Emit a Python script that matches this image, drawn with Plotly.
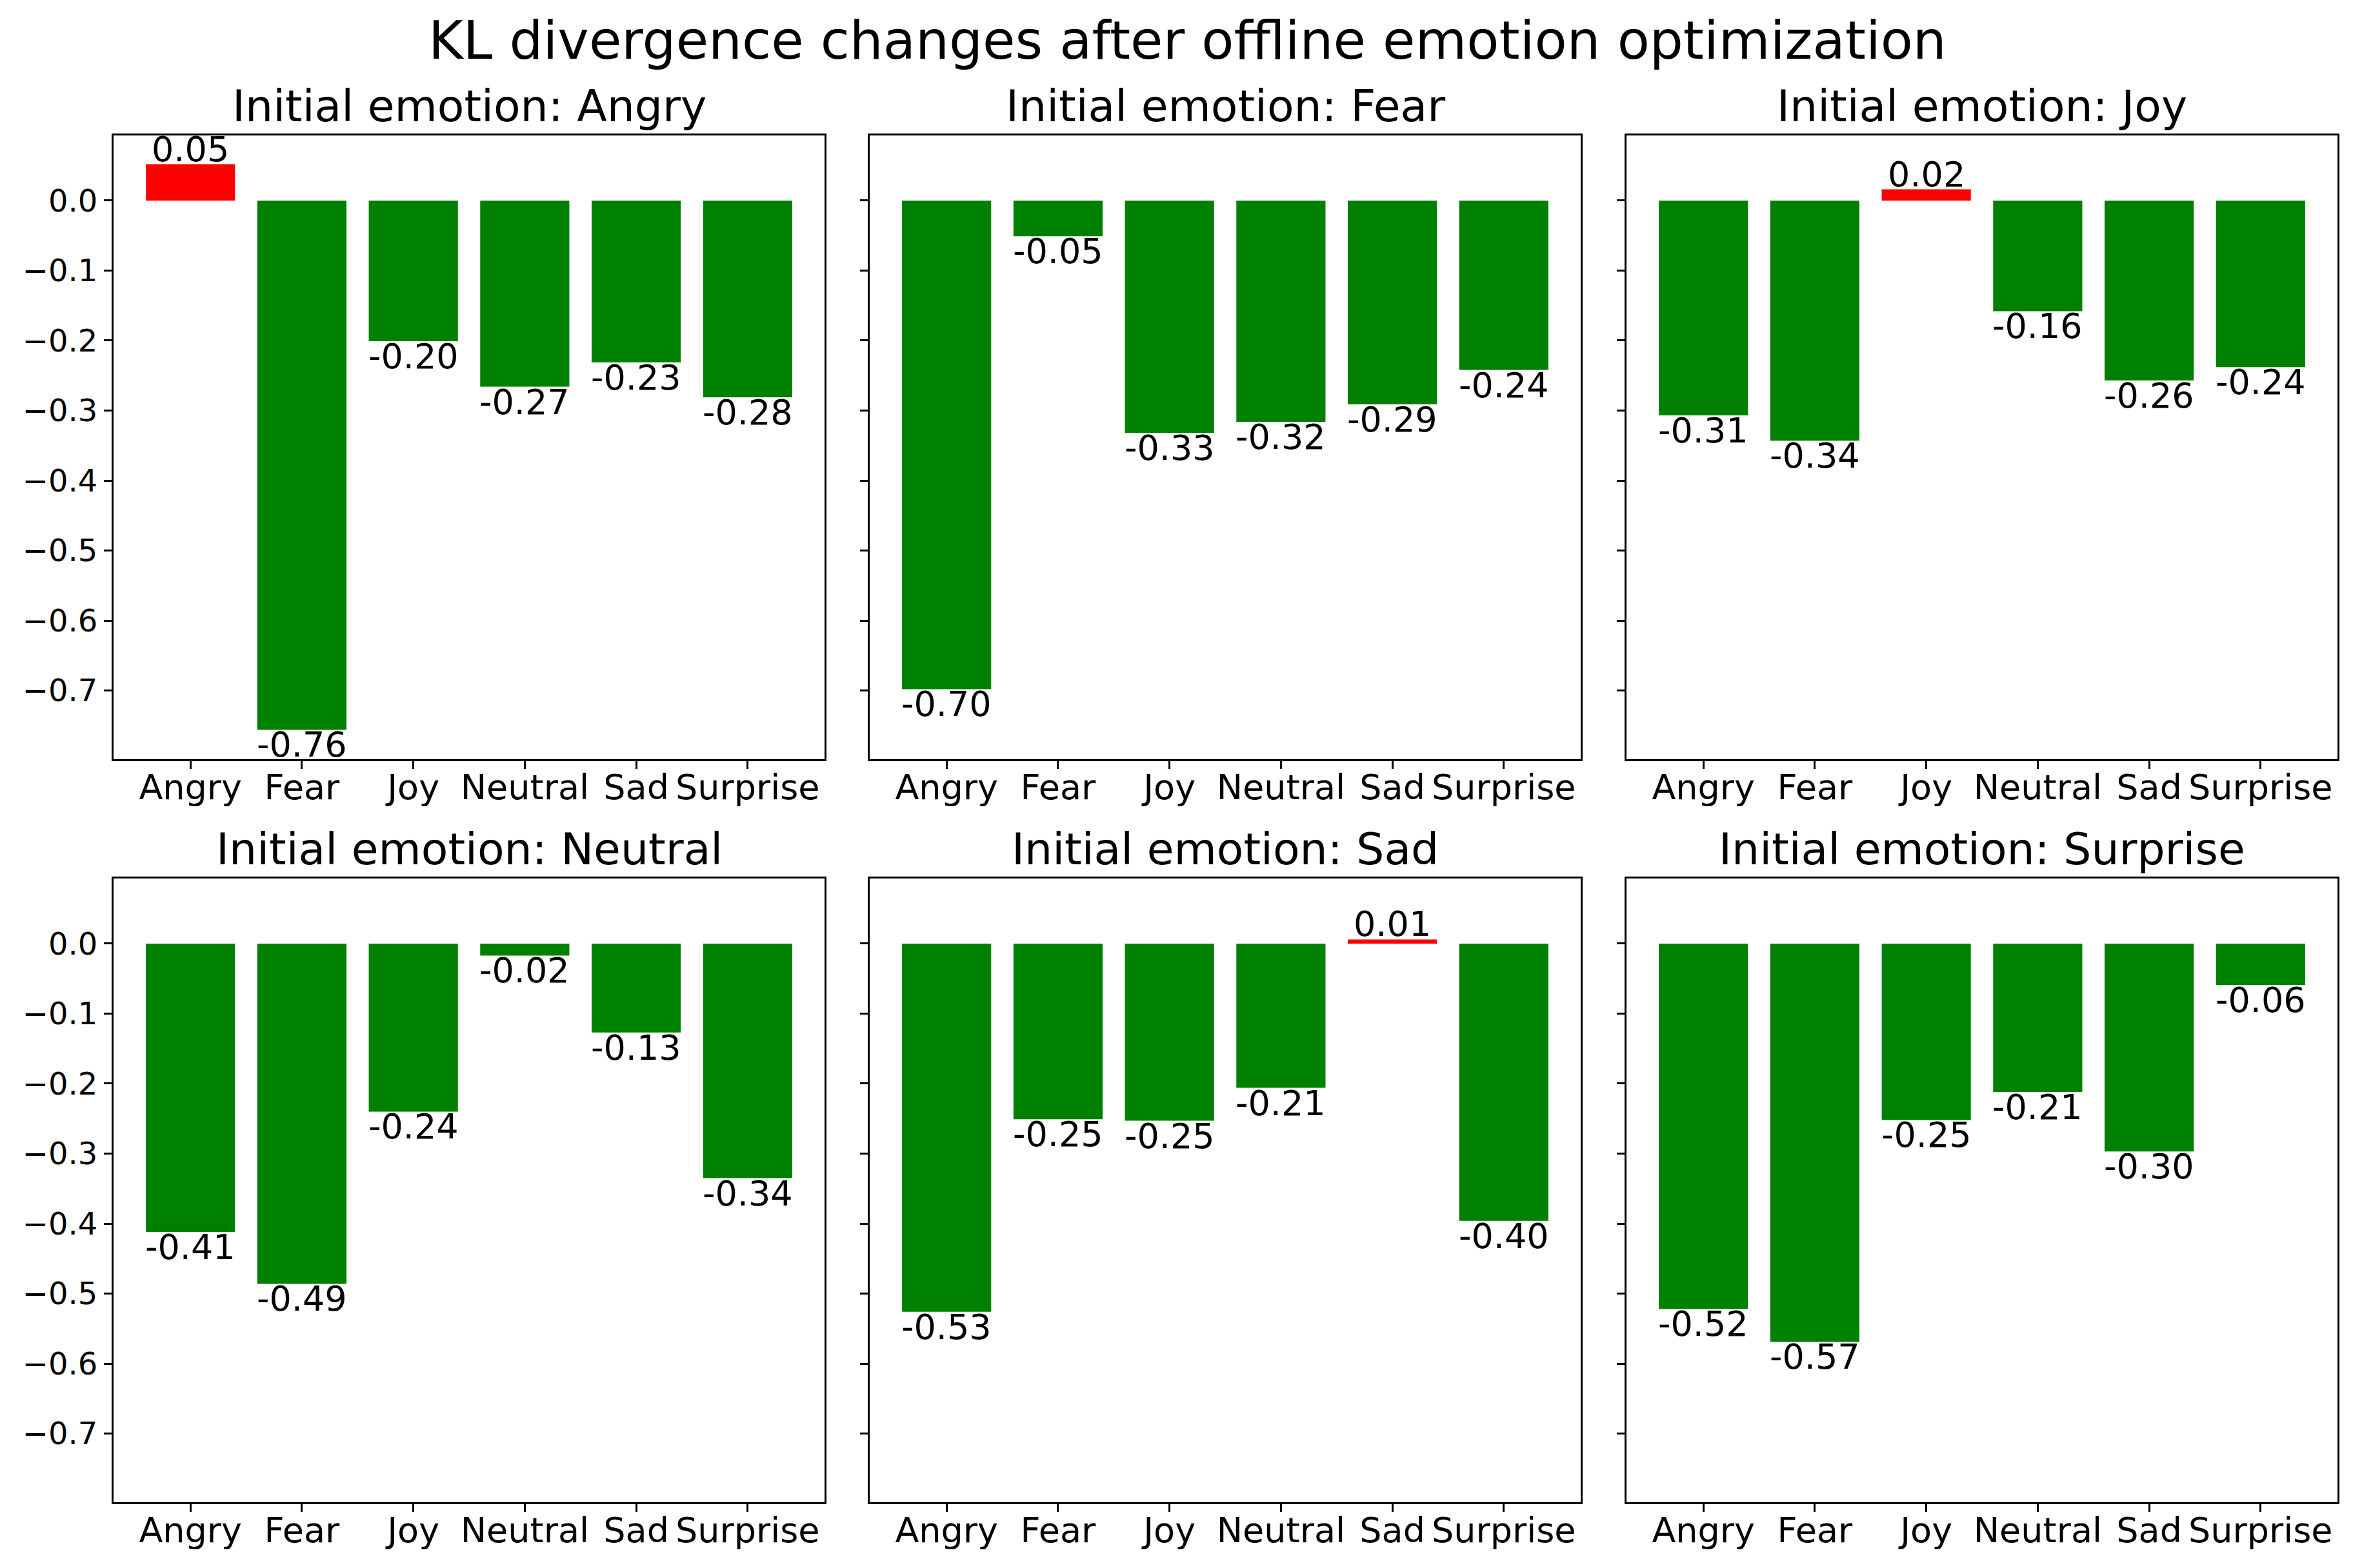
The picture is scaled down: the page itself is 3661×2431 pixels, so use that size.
import plotly.graph_objects as go

# ---------------- data ----------------
emotions = ["Angry", "Fear", "Joy", "Neutral", "Sad", "Surprise"]
initial_emotions = ["Angry", "Fear", "Joy", "Neutral", "Sad", "Surprise"]

kl_angry = [0.052, -0.756, -0.201, -0.266, -0.231, -0.281]
kl_fear = [-0.698, -0.051, -0.332, -0.316, -0.291, -0.242]
kl_joy = [-0.307, -0.343, 0.016, -0.158, -0.257, -0.238]
kl_neutral = [-0.412, -0.486, -0.240, -0.017, -0.127, -0.335]
kl_sad = [-0.526, -0.251, -0.253, -0.206, 0.006, -0.396]
kl_surprise = [-0.522, -0.569, -0.252, -0.212, -0.297, -0.059]

y_tick_values = [0.0, -0.1, -0.2, -0.3, -0.4, -0.5, -0.6, -0.7]
y_tick_labels = ["0.0", "\u22120.1", "\u22120.2", "\u22120.3", "\u22120.4", "\u22120.5", "\u22120.6", "\u22120.7"]

title_text = "KL divergence changes after offline emotion optimization"

series = [kl_angry, kl_fear, kl_joy, kl_neutral, kl_sad, kl_surprise]

# ---------------- layout geometry ----------------
W, H = 3661, 2431
OFF = 8  # default page body margin of the html page
FONT = "DejaVu Sans"
col_px = [(176, 1278), (1348, 2450), (2521, 3623)]
row_px = [(210, 1177), (1362, 2329)]  # top, bottom in px from top of page


def px_x(p):
    return (p - OFF) / W


def px_y(p):
    return 1 - (p - OFF) / H


RED = "#ff0000"
GREEN = "#008000"

fig = go.Figure()
annotations = []
layout_axes = {}

for i, (name, vals) in enumerate(zip(initial_emotions, series)):
    r, c = divmod(i, 3)
    idx = i + 1
    xa = "x" if idx == 1 else f"x{idx}"
    ya = "y" if idx == 1 else f"y{idx}"
    colors = [RED if v > 0 else GREEN for v in vals]
    fig.add_trace(go.Bar(
        x=emotions, y=vals, marker=dict(color=colors, line=dict(width=0)),
        xaxis=xa, yaxis=ya, showlegend=False, hoverinfo="skip",
    ))
    x0, x1 = col_px[c]
    top, bot = row_px[r]
    xdom = [px_x(x0), px_x(x1)]
    ydom = [px_y(bot), px_y(top)]
    axis_common = dict(
        showline=True, linecolor="black", linewidth=3, mirror=True,
        ticks="outside", ticklen=12, tickwidth=3, tickcolor="black",
        showgrid=False, zeroline=False,
    )
    layout_axes[f"xaxis{idx}"] = dict(
        domain=xdom, anchor=ya, type="category",
        categoryorder="array", categoryarray=emotions,
        range=[-0.69, 5.69],
        tickfont=dict(family=FONT, size=54, color="black"),
        ticklabelstandoff=-18,
        **axis_common,
    )
    layout_axes[f"yaxis{idx}"] = dict(
        domain=ydom, anchor=xa, range=[-0.798, 0.093],
        tickmode="array", tickvals=y_tick_values, ticktext=y_tick_labels,
        showticklabels=(c == 0),
        tickfont=dict(family=FONT, size=48, color="black"),
        **axis_common,
    )
    # subplot title
    annotations.append(dict(
        text=f"Initial emotion: {name}", xref="paper", yref="paper",
        x=(xdom[0] + xdom[1]) / 2, y=ydom[1], xanchor="center", yanchor="bottom",
        yshift=4, showarrow=False,
        font=dict(family=FONT, size=68, color="black"),
    ))
    # value labels
    for e, v in zip(emotions, vals):
        annotations.append(dict(
            text=f"{v:.2f}", xref=xa, yref=ya, x=e, y=v,
            xanchor="center", yanchor="bottom" if v > 0 else "top",
            yshift=-10 if v > 0 else 10, showarrow=False,
            font=dict(family=FONT, size=54, color="black"),
        ))

annotations.append(dict(
    text=title_text, xref="paper", yref="paper", x=px_x(1840), y=px_y(92),
    xanchor="center", yanchor="bottom", yshift=-20, showarrow=False,
    font=dict(family=FONT, size=82, color="black"),
))

fig.update_layout(
    width=W, height=H, margin=dict(l=0, r=0, t=0, b=0),
    paper_bgcolor="white", plot_bgcolor="white",
    bargap=0.2, annotations=annotations,
    font=dict(family=FONT, color="black"),
    **layout_axes,
)

fig.write_html("out.html", config={"displayModeBar": False})
